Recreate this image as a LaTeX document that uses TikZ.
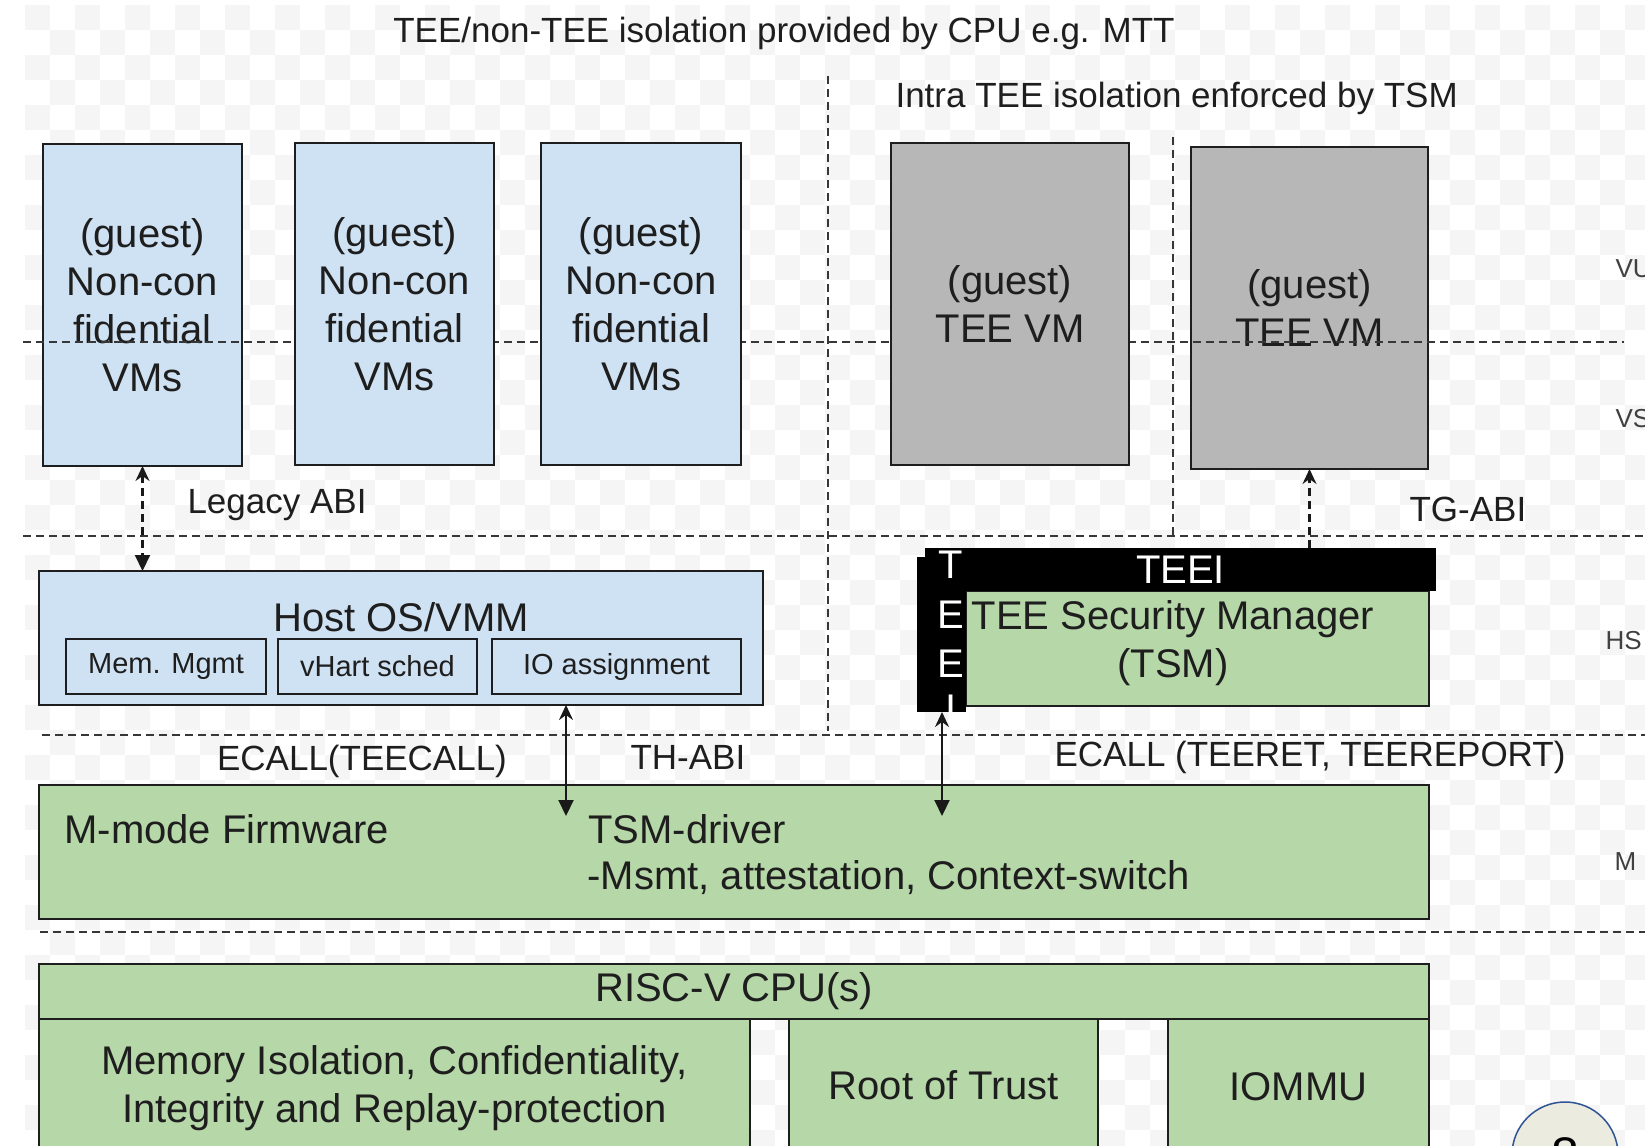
\documentclass[tikz,border=0pt]{standalone}
\usepackage{fontspec}
\setmainfont{Liberation Sans}
\usetikzlibrary{arrows.meta}

\definecolor{vmblue}{RGB}{207,226,243}
\definecolor{tsmgreen}{RGB}{182,215,168}
\definecolor{teegray}{RGB}{183,183,183}
\definecolor{badgefill}{RGB}{236,235,224}
\definecolor{badgeedge}{RGB}{47,84,150}
\definecolor{inkgray}{RGB}{30,30,30}
\definecolor{sepgray}{RGB}{55,55,55}
\definecolor{checker}{RGB}{245,245,245}

\tikzset{
  box/.style={draw=inkgray, line width=2.4pt, inner sep=0pt, outer sep=0pt,
              anchor=north west, align=center, text=inkgray},
  bluebox/.style={box, fill=vmblue},
  greenbox/.style={box, fill=tsmgreen},
  graybox/.style={box, fill=teegray},
  blackbar/.style={fill=black, inner sep=0pt, outer sep=0pt, anchor=north west},
  big/.style={font=\fontsize{40}{48}\selectfont, text=inkgray},
  mid/.style={font=\fontsize{35}{42}\selectfont, text=inkgray},
  small/.style={font=\fontsize{29}{35}\selectfont, text=inkgray},
  modelabel/.style={font=\fontsize{26}{31}\selectfont, text=black!75, anchor=west},
  sep/.style={draw=sepgray, line width=2.6pt, dash pattern=on 8pt off 5pt},
  link/.style={draw=black!90, line width=2.1pt},
  uptip/.style={{Stealth[length=15pt,width=14pt,inset=5pt]}-{Triangle[length=16pt,width=15pt]}},
}

\begin{document}
\begin{tikzpicture}[x=1pt,y=-1pt]
\useasboundingbox (0,0) rectangle (1645,1145);
\clip (0,0) rectangle (1645,1145);

% canvas with a faint checker pattern
\fill[white] (0,0) rectangle (1645,1145);
\foreach \j in {0,...,45}{
  \pgfmathtruncatemacro\off{mod(\j,2)}
  \foreach \i in {0,...,32}{
    \fill[checker] ({25+(2*\i+\off)*25},{5+\j*25}) rectangle +(25,25);
  }
}

% ---- guest VMs (these two sit under the VU/VS separator) ----
\node[bluebox, big, minimum width=199pt, minimum height=322pt] (nc1) at (43,144)
  {(guest)\\Non-con\\fidential\\VMs};
\node[graybox, big, minimum width=237pt, minimum height=322pt] (tee2) at (1191,147)
  {(guest)\\TEE VM};

% VU / VS separator
\draw[sep] (23,342) -- (1624,342);

% ---- guest VMs drawn above the separator ----
\node[bluebox, big, minimum width=199pt, minimum height=322pt] (nc2) at (295,143)
  {(guest)\\Non-con\\fidential\\VMs};
\node[bluebox, big, minimum width=200pt, minimum height=322pt] (nc3) at (541,143)
  {(guest)\\Non-con\\fidential\\VMs};
\node[graybox, big, minimum width=238pt, minimum height=322pt] (tee1) at (891,143)
  {(guest)\\TEE VM};

% ---- privilege-level separators and isolation boundaries ----
\draw[sep] (23,536) -- (1645,536);
\draw[sep] (42,735) -- (1645,735);
\draw[sep] (40,932) -- (1645,932);
\draw[sep] (828,76) -- (828,731);
\draw[sep] (1173,137) -- (1173,536);

% headings
\node[mid, anchor=base] (title) at (784,43) {TEE/non-TEE isolation provided by CPU e.g. MTT};
\node[mid, anchor=base west] (intra) at (892,107) {Intra TEE isolation enforced by TSM};

% ---- host OS / VMM ----
\node[bluebox, minimum width=724pt, minimum height=134pt] (host) at (39,571) {};
\node[big, anchor=base] (hosttext) at (401,631) {Host OS/VMM};
\node[bluebox, small, minimum width=200pt, minimum height=55pt] (mem) at (66,639) {Mem. Mgmt};
\node[bluebox, small, minimum width=199pt, minimum height=55pt] (vhart) at (278,639) {vHart sched};
\node[bluebox, small, minimum width=249pt, minimum height=55pt] (io) at (492,639) {IO assignment};

% ---- TEE security manager with its TEEI interface ----
\node[greenbox, minimum width=463pt, minimum height=115pt] (tsm) at (966,591) {};
\node[blackbar, minimum width=511pt, minimum height=43pt] (teei) at (925,548) {};
\node[blackbar, minimum width=49pt, minimum height=155pt] (teeside) at (917,557) {};
\node[big, text=white] (teeilabel) at (teei.center) {TEEI};
\node[big, text=white, anchor=base] (vt1) at (951,578) {T};
\node[big, text=white, anchor=base] (vt2) at (951,628) {E};
\node[big, text=white, anchor=base] (vt3) at (951,677) {E};
\node[big, text=white, anchor=base] (vt4) at (951,722) {I};
\node[big, align=center] (tsmtext) at (1173,643) {TEE Security Manager\\(TSM)};

% ---- M-mode firmware ----
\node[greenbox, minimum width=1390pt, minimum height=134pt] (mmode) at (39,785) {};
\node[big, anchor=base west] (fwtext) at (61,843) {M-mode Firmware};
\node[big, anchor=base west] (drvtext) at (585,843) {TSM-driver};
\node[big, anchor=base west] (drvdetail) at (584,889) {-Msmt, attestation, Context-switch};

% ---- hardware ----
\node[greenbox, big, minimum width=1390pt, minimum height=55pt] (cpu) at (39,964) {RISC-V CPU(s)};
\node[greenbox, big, minimum width=711pt, minimum height=138pt] (memiso) at (39,1019)
  {Memory Isolation, Confidentiality,\\Integrity and Replay-protection};
\node[greenbox, big, minimum width=309pt, minimum height=132pt] (rot) at (789,1019) {Root of Trust};
\node[greenbox, big, minimum width=261pt, minimum height=136pt] (iommu) at (1168,1019) {IOMMU};

% ---- ABI connectors ----
\draw[link, dash pattern=on 8pt off 5pt, uptip] (nc1.south) -- (nc1.south |- host.north);
\node[mid, anchor=base west] (legacy) at (184,513) {Legacy ABI};

\draw[link, dash pattern=on 8pt off 5pt, -{Stealth[length=15pt,width=14pt,inset=5pt]}]
  (teei.north -| tee2.south) -- (tee2.south);
\node[mid, anchor=base west] (tgabi) at (1406,521) {TG-ABI};

\coordinate (thtip) at (566,816);
\draw[link, uptip] (host.south -| thtip) -- (thtip);
\node[mid, anchor=base] (teecall) at (362,770) {ECALL(TEECALL)};
\node[mid, anchor=base west] (thabi) at (627,769) {TH-ABI};

\coordinate (tsmtip) at (942,816);
\draw[link, uptip] (teeside.south -| tsmtip) -- (tsmtip);
\node[mid, anchor=base] (teeret) at (1310,766) {ECALL (TEERET, TEEREPORT)};

% ---- privilege modes ----
\node[modelabel] (vu) at (1612,269) {VU};
\node[modelabel] (vs) at (1612,419) {VS};
\node[modelabel] (hs) at (1602,641) {HS};
\node[modelabel] (mm) at (1611,862) {M};

% ---- page badge ----
\node[circle, draw=badgeedge, fill=badgefill, line width=1.5pt, minimum size=106pt,
      inner sep=0pt] (badge) at (1565,1155) {};
\node[font=\fontsize{50}{60}\selectfont, anchor=base] (pagenum) at (1565,1172) {8};
\end{tikzpicture}
\end{document}
